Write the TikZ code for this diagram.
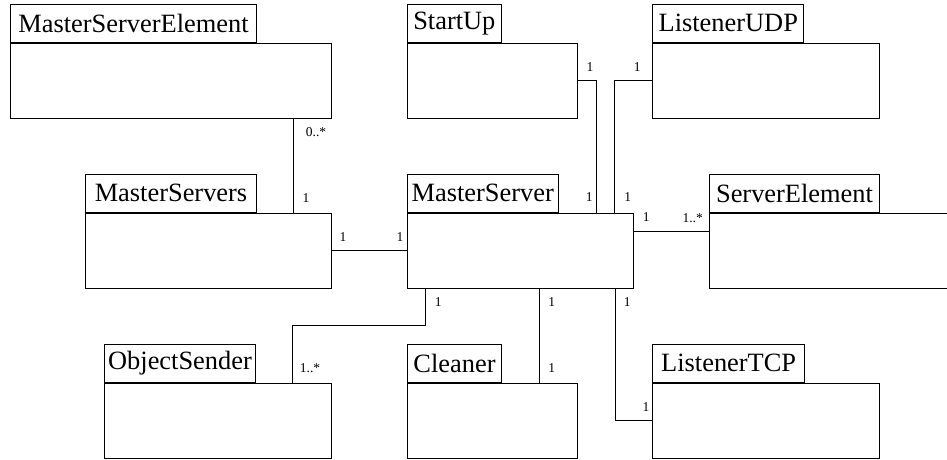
\documentclass[tikz,border=0pt]{standalone}
\usepackage{fontspec}
\setmainfont{Liberation Serif}

\begin{document}
\begin{tikzpicture}
    [
        x=1pt, y=-1pt,
        body/.style={rectangle, draw, line width=1pt, anchor=north west, minimum height=75pt, inner sep=0pt,},
        tab/.style={rectangle, draw, line width=1pt, anchor=south west, minimum height=38pt, inner xsep=0pt, inner ysep=0pt, font=\fontsize{26.4}{30}\selectfont,},
        mult/.style={inner sep=0pt, font=\fontsize{13.5}{15}\selectfont,},
        assoc/.style={line width=1pt,},
    ]

    \path [use as bounding box, clip] (0,0) rectangle (947,459);

    % class bodies
    \node (mse) at (10,42.7)        [body, minimum width=321pt] {};
    \node (startup) at (406.7,42.7) [body, minimum width=170pt] {};
    \node (ludp) at (652.3,42.7)    [body, minimum width=227pt] {};
    \node (mservers) at (85.3,212.5) [body, minimum width=245.7pt] {};
    \node (mserver) at (406.7,212.5) [body, minimum width=226.6pt] {};
    \node (selem) at (709,212.5)    [body, minimum width=260pt] {};
    \node (osender) at (104,382.7)  [body, minimum width=226.7pt] {};
    \node (cleaner) at (406.7,382.7) [body, minimum width=170pt] {};
    \node (ltcp) at (652.3,382.7)   [body, minimum width=227pt] {};

    % class names
    \node (mse-t) at (mse.north west)           [tab, minimum width=246pt] {MasterServerElement};
    \node (startup-t) at (startup.north west)   [tab, minimum width=94.3pt] {StartUp};
    \node (ludp-t) at (ludp.north west)         [tab, minimum width=151pt] {ListenerUDP};
    \node (mservers-t) at (mservers.north west) [tab, minimum width=170.4pt] {MasterServers};
    \node (mserver-t) at (mserver.north west)   [tab, minimum width=151pt] {MasterServer};
    \node (selem-t) at (selem.north west)       [tab, minimum width=170pt] {ServerElement};
    \node (osender-t) at (osender.north west)   [tab, minimum width=151pt] {ObjectSender};
    \node (cleaner-t) at (cleaner.north west)   [tab, minimum width=94.6pt] {Cleaner};
    \node (ltcp-t) at (ltcp.north west)         [tab, minimum width=151.7pt] {ListenerTCP};

    % associations
    \draw [assoc] (293.3,0 |- mse.south) -- (293.3,0 |- mservers.north);
    \draw [assoc] (mservers.east) -- (mserver.west);
    \draw [assoc] (startup.east) -| (596,0 |- mserver.north);
    \draw [assoc] (ludp.west) -| (614.3,0 |- mserver.north);
    \draw [assoc] (mserver.east |- 0,231) -- (selem.west |- 0,231);
    \draw [assoc] (425.7,0 |- mserver.south) |- (292.7,325.7) -- (292.7,0 |- osender.north);
    \draw [assoc] (539,0 |- mserver.south) -- (539,0 |- cleaner.north);
    \draw [assoc] (615,0 |- mserver.south) |- (ltcp.west);

    % multiplicities
    \node (m1) at (316,132)    [mult] {0..*};
    \node (m2) at (306,198)    [mult] {1};
    \node (m3) at (343,236.7)  [mult] {1};
    \node (m4) at (400,236.7)  [mult] {1};
    \node (m5) at (590,66.7)   [mult] {1};
    \node (m6) at (637.3,66.7) [mult] {1};
    \node (m7) at (589.3,197.3) [mult] {1};
    \node (m8) at (627.7,197.3) [mult] {1};
    \node (m9) at (646.3,217.3) [mult] {1};
    \node (m10) at (692.7,218.5) [mult] {1..*};
    \node (m11) at (438.3,301.7) [mult] {1};
    \node (m12) at (551.7,301.7) [mult] {1};
    \node (m13) at (627.3,301.7) [mult] {1};
    \node (m14) at (310,368.3)   [mult] {1..*};
    \node (m15) at (551.7,368.3) [mult] {1};
    \node (m16) at (646,406.7)   [mult] {1};

\end{tikzpicture}
\end{document}
